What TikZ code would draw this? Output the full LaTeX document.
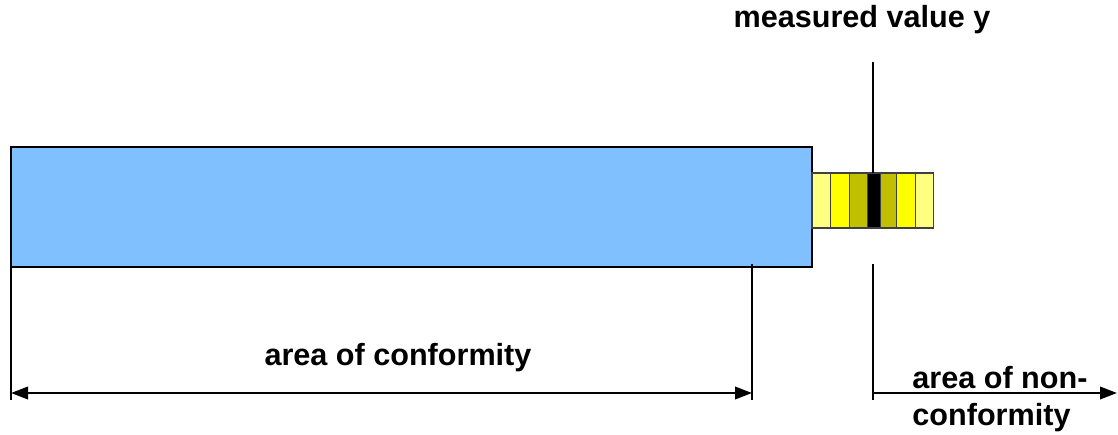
\documentclass[tikz,border=0pt]{standalone}
\usepackage{fontspec}
\setmainfont{Liberation Sans}
\usetikzlibrary{arrows.meta}
\definecolor{barblue}{RGB}{128,192,255}
\definecolor{paleyellow}{RGB}{255,255,128}
\definecolor{deepyellow}{RGB}{255,255,0}
\definecolor{olivecell}{RGB}{192,192,0}
\begin{document}
\begin{tikzpicture}[x=0.5pt,y=-0.5pt,
  lbl/.style={font=\fontsize{15.3}{18.5}\selectfont\bfseries, inner sep=0},
  bar/.style={draw=black, line width=1.1pt, fill=barblue, inner sep=0, outer sep=0, anchor=north west,
              minimum width=400.5pt, minimum height=60pt},
  cell/.style={draw=black!75, line width=0.6pt, inner sep=0, outer sep=0, anchor=north west, minimum height=27.5pt},
  rule/.style={line width=1.1pt},
  tip/.tip={Triangle[length=8.5pt,width=6.2pt]},
  dim/.style={line width=1.2pt},
]
\useasboundingbox (0,0) rectangle (1118,434);

% tolerance bar
\node[bar] (bar) at (11,147) {};

% uncertainty band around the measured value
\node[cell, fill=paleyellow, minimum width=9.35pt] (c1) at (812,173) {};
\node[cell, fill=deepyellow, minimum width=9.3pt] (c2) at (c1.north east) {};
\node[cell, fill=olivecell, minimum width=9pt] (c3) at (c2.north east) {};
\node[cell, fill=black, minimum width=6.7pt] (c4) at (c3.north east) {};
\node[cell, fill=olivecell, minimum width=8pt] (c5) at (c4.north east) {};
\node[cell, fill=deepyellow, minimum width=9.3pt] (c6) at (c5.north east) {};
\node[cell, fill=paleyellow, minimum width=9pt] (c7) at (c6.north east) {};

% measured value marker
\coordinate (mtop) at (873,62);
\draw[rule] (mtop) -- (mtop |- c4.north);
\coordinate (mlow) at (873,264);
\coordinate (mend) at (873,400);
\draw[rule] (mlow) -- (mend);

% limits of the conformity zone
\coordinate (lend) at (11,400);
\draw[rule] (bar.south west) -- (lend);
\coordinate (rtop) at (752,264);
\coordinate (rend) at (752,400);
\draw[rule] (rtop) -- (rend);

% dimension arrows
\coordinate (aL) at (11,393);
\coordinate (aR) at (752,393);
\draw[dim, tip-tip] (aL) -- (aR);
\coordinate (bL) at (873,393);
\coordinate (bR) at (1117,393);
\draw[dim, -tip] (bL) -- (bR);

% labels
\node[lbl, anchor=base] (mv) at (862,27) {measured value y};
\node[lbl, anchor=base] (conf) at (398,365) {area of conformity};
\node[lbl, anchor=base west] (nc1) at (912,388) {area of non-};
\node[lbl, anchor=base west] (nc2) at (912,425) {conformity};
\end{tikzpicture}
\end{document}
